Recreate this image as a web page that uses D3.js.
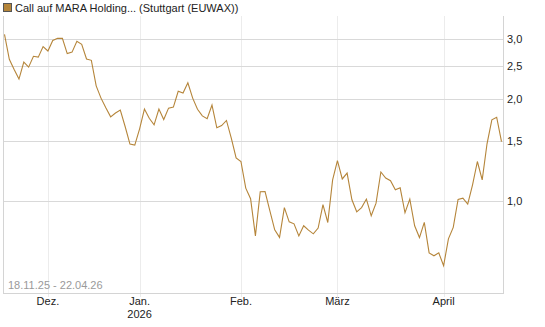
<!DOCTYPE html>
<html>
<head>
<meta charset="utf-8">
<script src="https://cdn.jsdelivr.net/npm/d3@7"></script>
<style>
  body { margin: 0; background: #fff; }
  text { font-family: "Liberation Sans", Arial, sans-serif; }
</style>
</head>
<body>
<div id="chart"></div>
<script>
// Kurs je Handelstag, 18.11.25 - 22.04.26
const values = [
  3.10, 2.615, 2.44, 2.287, 2.566, 2.48, 2.669, 2.654, 2.851, 2.767,
  2.971, 3.016, 3.016, 2.718, 2.746, 2.955, 2.896, 2.62, 2.597, 2.184,
  2.009, 1.881, 1.769, 1.815, 1.852, 1.657, 1.47, 1.46, 1.631, 1.865,
  1.752, 1.676, 1.865, 1.737, 1.877, 1.89, 2.104, 2.079, 2.229, 2.009,
  1.862, 1.781, 1.746, 1.916, 1.642, 1.667, 1.726, 1.531, 1.339, 1.306,
  1.09, 1.014, 0.788, 1.063, 1.065, 0.934, 0.821, 0.78, 0.955, 0.867,
  0.855, 0.788, 0.844, 0.819, 0.799, 0.831, 0.975, 0.863, 1.153, 1.314,
  1.16, 1.207, 1.007, 0.928, 0.955, 1.012, 0.903, 0.984, 1.216, 1.167,
  1.146, 1.078, 1.092, 0.922, 1.012, 0.844, 0.779, 0.864, 0.702, 0.688,
  0.702, 0.643, 0.772, 0.835, 1.009, 1.018, 0.978, 1.115, 1.306, 1.153,
  1.473, 1.734, 1.764, 1.496
];

const monthLabels = ["Dez.", "Jan.", "Feb.", "März", "April"];
const monthIndex = [9, 28, 49, 69, 91];
const yearLabels = ["", "2026", "", "", ""];
const yTicks = [1.0, 1.5, 2.0, 2.5, 3.0];

const title = "Call auf MARA Holding... (Stuttgart (EUWAX))";
const rangeLabel = "18.11.25 - 22.04.26";
const lineColor = "#b5853a";

const width = 545;
const height = 327;
const pLeft = 3, pRight = 503, pTop = 16, pBottom = 293;

const svg = d3.select("#chart").append("svg")
  .attr("width", width)
  .attr("height", height);

const x = d3.scaleLinear()
  .domain([0, values.length - 1])
  .range([4.5, 501.5]);

const y = d3.scaleLog()
  .domain([0.5345, 3.51])
  .range([pBottom, pTop]);

// vertikale Gitterlinien
svg.append("g").selectAll("line").data(monthIndex).enter().append("line")
  .attr("x1", d => Math.round(x(d)) + 0.5)
  .attr("x2", d => Math.round(x(d)) + 0.5)
  .attr("y1", pTop)
  .attr("y2", pBottom + 4)
  .attr("stroke", "#ececec");

// horizontale Gitterlinien
svg.append("g").selectAll("line").data(yTicks).enter().append("line")
  .attr("x1", pLeft)
  .attr("x2", pRight)
  .attr("y1", d => Math.round(y(d)) + 0.5)
  .attr("y2", d => Math.round(y(d)) + 0.5)
  .attr("stroke", "#d9d9d9");

// Rahmen links, rechts, unten
svg.append("line")
  .attr("x1", pLeft + 0.5).attr("x2", pLeft + 0.5)
  .attr("y1", pTop).attr("y2", pBottom)
  .attr("stroke", "#d4d4d4");
svg.append("line")
  .attr("x1", pRight + 0.5).attr("x2", pRight + 0.5)
  .attr("y1", pTop).attr("y2", pBottom)
  .attr("stroke", "#d4d4d4");
svg.append("line")
  .attr("x1", pLeft).attr("x2", pRight + 1)
  .attr("y1", pBottom + 0.5).attr("y2", pBottom + 0.5)
  .attr("stroke", "#d4d4d4");

// Kurslinie
const line = d3.line()
  .x((d, i) => x(i))
  .y(d => y(d));

svg.append("path")
  .datum(values)
  .attr("fill", "none")
  .attr("stroke", lineColor)
  .attr("stroke-width", 1.1)
  .attr("d", line);

// Y-Achse rechts
svg.append("g").selectAll("text").data(yTicks).enter().append("text")
  .attr("x", pRight + 4)
  .attr("y", d => y(d) + 4)
  .attr("font-size", 11)
  .attr("fill", "#222")
  .text(d => d3.format(".1f")(d).replace(".", ","));

// X-Achse
const xg = svg.append("g");
xg.selectAll("text.m").data(monthLabels).enter().append("text")
  .attr("class", "m")
  .attr("x", (d, i) => x(monthIndex[i]))
  .attr("y", pBottom + 12)
  .attr("text-anchor", "middle")
  .attr("font-size", 11)
  .attr("fill", "#222")
  .text(d => d);
xg.selectAll("text.yr").data(yearLabels).enter().append("text")
  .attr("class", "yr")
  .attr("x", (d, i) => x(monthIndex[i]))
  .attr("y", pBottom + 25)
  .attr("text-anchor", "middle")
  .attr("font-size", 11)
  .attr("fill", "#222")
  .text(d => d);

// Zeitraum
svg.append("text")
  .attr("x", 8)
  .attr("y", pBottom - 4)
  .attr("font-size", 11)
  .attr("fill", "#9a9a9a")
  .text(rangeLabel);

// Legende
svg.append("rect")
  .attr("x", 3.5).attr("y", 3.5)
  .attr("width", 8).attr("height", 8)
  .attr("fill", lineColor)
  .attr("stroke", "#555");
svg.append("text")
  .attr("x", 15)
  .attr("y", 12)
  .attr("font-size", 11)
  .attr("fill", "#222")
  .text(title);
</script>
</body>
</html>
